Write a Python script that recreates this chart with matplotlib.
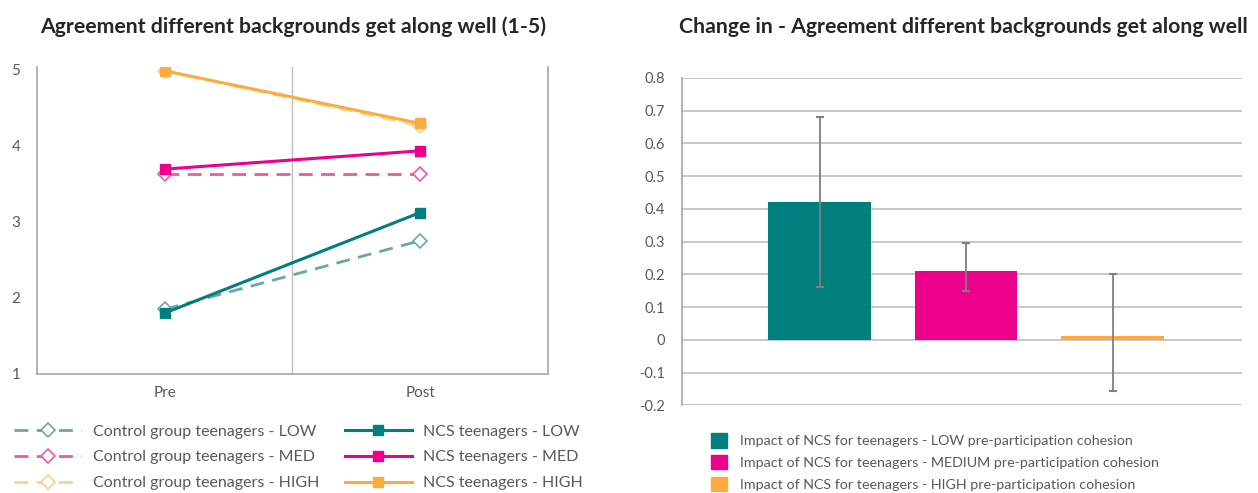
import matplotlib
matplotlib.use("Agg")
import matplotlib.pyplot as plt
from matplotlib.patches import Patch

plt.rcParams['font.family'] = ['Lato', 'DejaVu Sans']

# left chart data
periods = ["Pre", "Post"]
control_low = [1.85, 2.75]
control_med = [3.63, 3.63]
control_high = [4.98, 4.26]
ncs_low = [1.80, 3.12]
ncs_med = [3.69, 3.93]
ncs_high = [4.98, 4.29]

# right chart data
impact_labels = ["Impact of NCS for teenagers - LOW pre-participation cohesion",
                 "Impact of NCS for teenagers - MEDIUM pre-participation cohesion",
                 "Impact of NCS for teenagers - HIGH pre-participation cohesion"]
impact = [0.42, 0.21, 0.012]
err_low = [0.16, 0.148, -0.157]
err_high = [0.681, 0.295, 0.2]

teal = "#007F7E"
pink = "#EC008C"
orange = "#FAAC40"
teal_light = "#6AA8A8"
pink_light = "#F0589F"
orange_light = "#FDD08E"
grey = "#A6A6A6"
text_grey = "#595959"

fig = plt.figure(figsize=(12.58, 4.93), dpi=100)

# ---- left: pre / post lines
ax1 = fig.add_axes([0.0294, 0.2414, 0.4062, 0.6226])
x = range(len(periods))
ctrl_style = dict(linestyle=(0, (5, 3)), lw=2, marker="D", markersize=7,
                  markerfacecolor="white", markeredgewidth=1.2)
ncs_style = dict(linestyle="-", lw=2.2, marker="s", markersize=7)

ax1.plot(x, control_low, color=teal_light, label="Control group teenagers - LOW", **ctrl_style)
ax1.plot(x, control_med, color=pink_light, label="Control group teenagers - MED", **ctrl_style)
ax1.plot(x, control_high, color=orange_light, label="Control group teenagers - HIGH", **ctrl_style)
ax1.plot(x, ncs_low, color=teal, label="NCS teenagers - LOW", **ncs_style)
ax1.plot(x, ncs_med, color=pink, label="NCS teenagers - MED", **ncs_style)
ax1.plot(x, ncs_high, color=orange, label="NCS teenagers - HIGH", **ncs_style)

ax1.axvline(0.5, color="#BFBFBF", lw=1, zorder=0)
ax1.set_xlim(-0.5, 1.5)
ax1.set_ylim(1, 5.03)
ax1.set_xticks(list(x))
ax1.set_xticklabels(periods)
ax1.set_yticks([1, 2, 3, 4, 5])
ax1.spines["top"].set_visible(False)
for s in ["left", "bottom", "right"]:
    ax1.spines[s].set_color(grey)
    ax1.spines[s].set_linewidth(1.2)
ax1.tick_params(length=0, labelsize=11, colors=text_grey, pad=9)
ax1.tick_params(axis="y", pad=12)

fig.text(0.032, 0.945, "Agreement different backgrounds get along well (1-5)",
         ha="left", va="center", fontsize=15.3, fontweight="bold", color="#262626")

fig.legend(*ax1.get_legend_handles_labels(), ncol=2, loc="upper left",
           bbox_to_anchor=(0.0, 0.168), frameon=False, fontsize=11.5,
           labelcolor=text_grey, handlelength=4.2, columnspacing=1.6,
           labelspacing=0.72, handletextpad=0.7)

# ---- right: change bars
ax2 = fig.add_axes([0.542, 0.178, 0.445, 0.664])
pos = range(len(impact))
colors = [teal, pink, orange]
yerr = [[v - lo for v, lo in zip(impact, err_low)],
        [hi - v for v, hi in zip(impact, err_high)]]
ax2.bar(pos, impact, width=0.7, color=colors, zorder=2)
ax2.errorbar(pos, impact, yerr=yerr, fmt="none", ecolor="#7F7F7F",
             elinewidth=1.3, capsize=3, capthick=1.5, zorder=3)
ax2.set_xlim(-0.94, 2.88)
ax2.set_ylim(-0.2, 0.8)
ax2.set_yticks([-0.2, -0.1, 0, 0.1, 0.2, 0.3, 0.4, 0.5, 0.6, 0.7, 0.8])
ax2.set_yticklabels(["-0.2", "-0.1", "0", "0.1", "0.2", "0.3", "0.4",
                     "0.5", "0.6", "0.7", "0.8"])
ax2.set_xticks([])
ax2.grid(axis="y", color="#BFBFBF", lw=1.2, zorder=0)
for s in ["top", "right", "bottom"]:
    ax2.spines[s].set_visible(False)
ax2.spines["left"].set_color(grey)
ax2.spines["left"].set_linewidth(1.2)
ax2.tick_params(length=0, labelsize=10.5, colors=text_grey, pad=12)

fig.text(0.540, 0.945, "Change in - Agreement different backgrounds get along well",
         ha="left", va="center", fontsize=15.3, fontweight="bold", color="#262626")

bar_handles = [Patch(color=c) for c in colors]
fig.legend(bar_handles, impact_labels, loc="upper left",
           bbox_to_anchor=(0.555, 0.148), frameon=False, fontsize=10.3,
           labelcolor=text_grey, handlelength=1.1, handleheight=1.2,
           labelspacing=0.5, handletextpad=0.9)

fig.savefig("out.png", dpi=100)
